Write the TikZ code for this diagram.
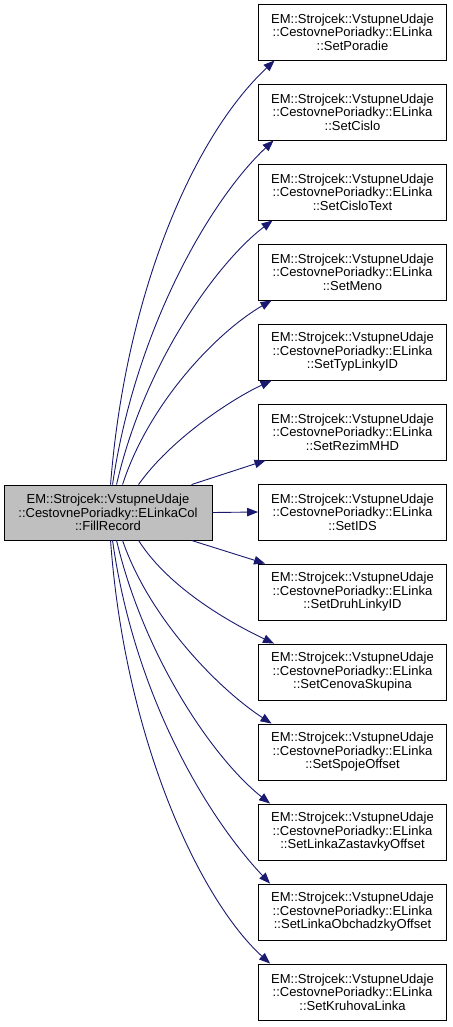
\documentclass[tikz,border=0pt]{standalone}
\usepackage{fontspec}
\setmainfont{Liberation Sans}
\usetikzlibrary{arrows.meta,calc}
\definecolor{edgeblue}{RGB}{25,25,112}
\definecolor{mainfill}{RGB}{191,191,191}
\begin{document}
\begin{tikzpicture}[x=1pt,y=-1pt,
 fn/.style={draw=black,line width=0.9pt,fill=white,minimum width=188pt,minimum height=56pt,inner sep=0pt,align=center,font=\fontsize{13}{13.6}\selectfont},
 mn/.style={fn,fill=mainfill,minimum width=208pt,minimum height=55pt},
 calledge/.style={draw=edgeblue,line width=0.9pt,-{Triangle[length=11pt,width=8.5pt]}}]
\useasboundingbox (0,0) rectangle (452,1027);
\node[mn] (L) at (108,512.5) {EM::Strojcek::VstupneUdaje\\::CestovnePoriadky::ELinkaCol\\::FillRecord};
\foreach \nm [count=\i from 0] in {SetPoradie,SetCislo,SetCisloText,SetMeno,SetTypLinkyID,SetRezimMHD,SetIDS,SetDruhLinkyID,SetCenovaSkupina,SetSpojeOffset,SetLinkaZastavkyOffset,SetLinkaObchadzkyOffset,SetKruhovaLinka}
  \node[fn] (\nm) at (352.5,32+80*\i) {EM::Strojcek::VstupneUdaje\\::CestovnePoriadky::ELinka\\::\nm};
% upward edges
\draw[calledge] ($(L.north west)+(107,0)$) .. controls (125,300) and (190,140) .. ($(SetPoradie.south west)+(16.5,0)$);
\draw[calledge] ($(L.north west)+(109,0)$) .. controls (135,330) and (210,200) .. ($(SetCislo.south west)+(15.5,0)$);
\draw[calledge] ($(L.north west)+(113,0)$) .. controls (145,360) and (220,260) .. ($(SetCisloText.south west)+(14.5,0)$);
\draw[calledge] ($(L.north west)+(119,0)$) .. controls (150,400) and (220,330) .. ($(SetMeno.south west)+(13.5,0)$);
\draw[calledge] ($(L.north west)+(135,0)$) .. controls (170,440) and (230,400) .. ($(SetTypLinkyID.south west)+(13.5,0)$);
\draw[calledge] ($(L.north west)+(188,0)$) -- ($(SetRezimMHD.south west)+(7.5,0)$);
% straight
\draw[calledge] (L.east) -- (SetIDS.west);
% downward edges
\draw[calledge] ($(L.south west)+(188,0)$) -- ($(SetDruhLinkyID.north west)+(7,0)$);
\draw[calledge] ($(L.south west)+(135,0)$) .. controls (170,590) and (235,625) .. ($(SetCenovaSkupina.north west)+(16,0)$);
\draw[calledge] ($(L.south west)+(119,0)$) .. controls (150,620) and (220,690) .. ($(SetSpojeOffset.north west)+(13.5,0)$);
\draw[calledge] ($(L.south west)+(113,0)$) .. controls (145,660) and (215,760) .. ($(SetLinkaZastavkyOffset.north west)+(12,0)$);
\draw[calledge] ($(L.south west)+(109,0)$) .. controls (135,700) and (210,820) .. ($(SetLinkaObchadzkyOffset.north west)+(12,0)$);
\draw[calledge] ($(L.south west)+(107,0)$) .. controls (125,740) and (200,900) .. ($(SetKruhovaLinka.north west)+(12,0)$);
\end{tikzpicture}
\end{document}
